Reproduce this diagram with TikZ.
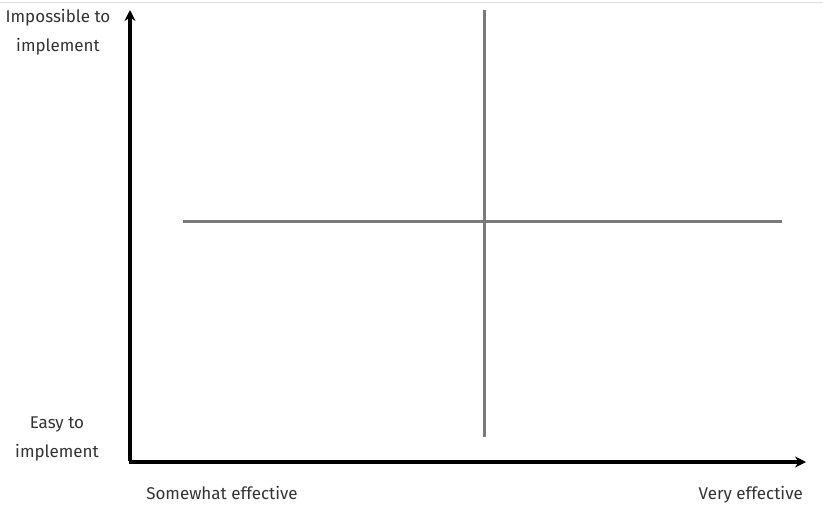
\documentclass[tikz,border=0pt]{standalone}
\usepackage{fontspec}
\setmainfont{Fira Sans}
\usetikzlibrary{arrows.meta, positioning}

\tikzset{
  axislabel/.style={text=black!80, font=\fontsize{17}{29}\selectfont, align=center, inner sep=0pt},
  axis/.style={line width=3.4pt, -{Stealth[length=11pt, width=11pt]}},
  divider/.style={line width=3pt, black!52}
}

\begin{document}
\begin{tikzpicture}[x=1pt, y=-1pt]

\useasboundingbox (0,0) rectangle (823,509);
\draw[black!12, line width=1pt] (0,2) -- (823,2);

% Axes
\coordinate (O) at (130,462);
\coordinate (ytop) at (130,10);
\coordinate (xend) at (806,462);
\draw[axis] ([yshift=1.5pt]O) -- (ytop);
\draw[axis] ([xshift=-1.5pt]O) -- (xend);

% Quadrant lines
\coordinate (vtop) at (484,10);
\coordinate (vbot) at (484,437);
\coordinate (hleft) at (183,221);
\coordinate (hright) at (782,221);
\draw[divider] (vtop) -- (vbot);
\draw[divider] (hleft) -- (hright);

% Labels
\node[axislabel] (hard) at (58,32) {Impossible to\\implement};
\node[axislabel] (easy) at (57,439) {Easy to\\implement};
\node[axislabel, anchor=base] (some) at (222,499) {Somewhat effective};
\node[axislabel, anchor=base east] (very) at (803,499) {Very effective};

\end{tikzpicture}
\end{document}
